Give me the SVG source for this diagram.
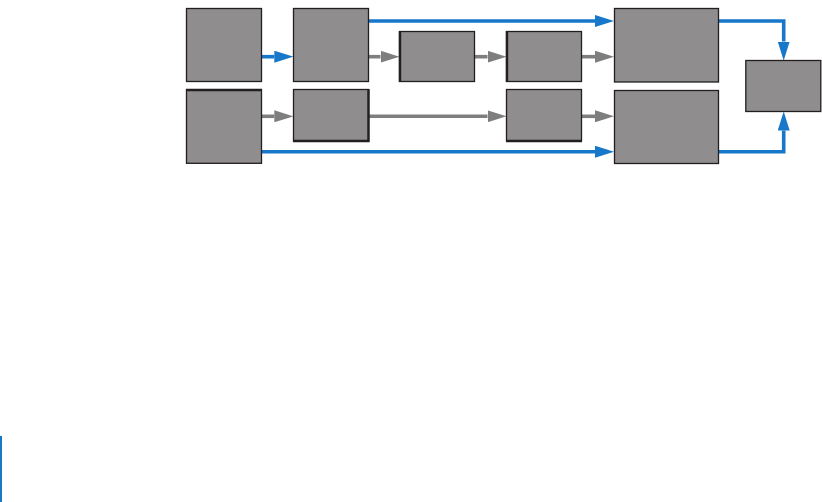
<svg xmlns="http://www.w3.org/2000/svg" width="822" height="502" viewBox="0 0 822 502">
<style>
.box{fill:#8f8d8e;stroke:#231f20;stroke-width:1.3}
.edge{fill:none;stroke:#231f20;stroke-width:2.4}
.blue{fill:none;stroke:#1777c8;stroke-width:3.6}
.gray{fill:none;stroke:#7f7e7e;stroke-width:3.6}
</style>
<defs>
<marker id="hb" viewBox="0 0 19 12" refX="0" refY="6" markerWidth="19" markerHeight="12" markerUnits="userSpaceOnUse" orient="auto"><path d="M0,0 L19,6 L0,12 Z" fill="#1777c8"/></marker>
<marker id="hg" viewBox="0 0 19 12" refX="0" refY="6" markerWidth="19" markerHeight="12" markerUnits="userSpaceOnUse" orient="auto"><path d="M0,0 L19,6 L0,12 Z" fill="#7f7e7e"/></marker>
</defs>
<line x1="1" y1="436" x2="1" y2="502" stroke="#1777c8" stroke-width="2"/>
<g id="connectors">
<path class="blue" d="M261.5,56.7 H274.3" marker-end="url(#hb)"/>
<path class="gray" d="M368.5,56.7 H380.5" marker-end="url(#hg)"/>
<path class="gray" d="M475,56.7 H487.5" marker-end="url(#hg)"/>
<path class="gray" d="M582,56.7 H595" marker-end="url(#hg)"/>
<path class="blue" d="M368.5,21 H595" marker-end="url(#hb)"/>
<path class="gray" d="M261.5,116.3 H274.3" marker-end="url(#hg)"/>
<path class="gray" d="M368.5,116.3 H487.5" marker-end="url(#hg)"/>
<path class="gray" d="M582,116.3 H595" marker-end="url(#hg)"/>
<path class="blue" d="M261.5,151.7 H595" marker-end="url(#hb)"/>
<path class="blue" d="M718.5,21 H783.7 V41.5" marker-end="url(#hb)"/>
<path class="blue" d="M718.5,151.7 H783.7 V130.5" marker-end="url(#hb)"/>
</g>
<g id="nodeA"><rect class="box" x="186.5" y="8.5" width="75" height="73"/></g>
<g id="nodeB"><rect class="box" x="293.5" y="8.5" width="75" height="73"/></g>
<g id="nodeC"><rect class="box" x="186.5" y="89.8" width="75" height="73.5"/><line class="edge" x1="186" y1="90" x2="262" y2="90"/></g>
<g id="nodeD"><rect class="box" x="293.5" y="89.5" width="75" height="51.5"/><path class="edge" d="M368.5,89 V141 H293"/></g>
<g id="nodeE"><rect class="box" x="399.5" y="31.5" width="75" height="50"/><line class="edge" x1="400" y1="31" x2="400" y2="82"/></g>
<g id="nodeF"><rect class="box" x="506.5" y="31.5" width="75" height="50"/><line class="edge" x1="507" y1="31" x2="507" y2="82"/></g>
<g id="nodeG"><rect class="box" x="506.5" y="89.5" width="75" height="51.5"/><line class="edge" x1="506" y1="141" x2="582" y2="141"/></g>
<g id="nodeH"><rect class="box" x="614.5" y="8.5" width="104" height="73.5"/></g>
<g id="nodeI"><rect class="box" x="614.5" y="90.5" width="104" height="73"/></g>
<g id="nodeJ"><rect class="box" x="745.8" y="60.5" width="75" height="51"/></g>
</svg>
